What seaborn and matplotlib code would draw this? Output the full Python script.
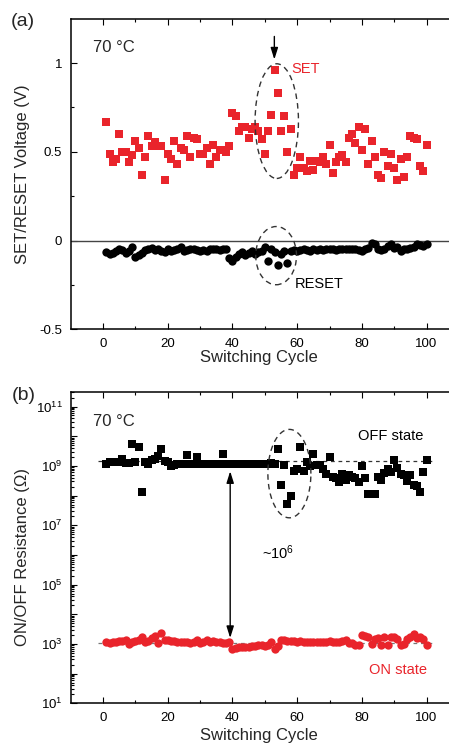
import numpy as np
import pandas as pd
import matplotlib
matplotlib.use("Agg")
import matplotlib.pyplot as plt
import seaborn as sns
from matplotlib.patches import Ellipse
from matplotlib.ticker import FixedLocator, FixedFormatter, LogLocator, NullFormatter

# ---------------- data ----------------
cycles = list(range(1, 101))

set_voltage = [
    0.67, 0.49, 0.44, 0.46, 0.60, 0.50, 0.50, 0.44, 0.48, 0.56,
    0.52, 0.37, 0.47, 0.59, 0.53, 0.555, 0.53, 0.53, 0.34, 0.49,
    0.46, 0.56, 0.43, 0.52, 0.51, 0.59, 0.47, 0.58, 0.57, 0.49,
    0.49, 0.52, 0.43, 0.54, 0.47, 0.51, 0.51, 0.50, 0.53, 0.72,
    0.70, 0.62, 0.64, 0.64, 0.58, 0.63, 0.64, 0.62, 0.57, 0.49,
    0.62, 0.71, 0.96, 0.83, 0.62, 0.70, 0.50, 0.63, 0.37, 0.41,
    0.47, 0.41, 0.39, 0.45, 0.40, 0.45, 0.44, 0.47, 0.43, 0.54,
    0.38, 0.44, 0.47, 0.48, 0.44, 0.58, 0.60, 0.55, 0.64, 0.51,
    0.63, 0.43, 0.56, 0.47, 0.37, 0.35, 0.50, 0.42, 0.49, 0.41,
    0.34, 0.46, 0.36, 0.47, 0.59, 0.58, 0.57, 0.42, 0.39, 0.54,
]

reset_voltage = [
    -0.063, -0.075, -0.070, -0.060, -0.045, -0.055, -0.070, -0.060, -0.035, -0.090,
    -0.080, -0.070, -0.055, -0.045, -0.040, -0.055, -0.050, -0.060, -0.065, -0.050,
    -0.060, -0.055, -0.050, -0.035, -0.060, -0.055, -0.050, -0.050, -0.055, -0.060,
    -0.055, -0.060, -0.050, -0.045, -0.050, -0.055, -0.045, -0.050, -0.100, -0.115,
    -0.090, -0.075, -0.065, -0.080, -0.070, -0.060, -0.075, -0.065, -0.060, -0.035,
    -0.114, -0.050, -0.065, -0.140, -0.075, -0.060, -0.127, -0.060, -0.055, -0.060,
    -0.055, -0.050, -0.055, -0.060, -0.050, -0.055, -0.050, -0.055, -0.050, -0.045,
    -0.050, -0.055, -0.050, -0.045, -0.050, -0.045, -0.050, -0.045, -0.055, -0.060,
    -0.050, -0.040, -0.015, -0.020, -0.050, -0.055, -0.050, -0.030, -0.020, -0.040,
    -0.035, -0.060, -0.050, -0.045, -0.040, -0.035, -0.020, -0.025, -0.030, -0.020,
]

# resistance values read as exponents of ten
off_log10 = [
    9.06, 9.13, 9.13, 9.13, 9.13, 9.24, 9.10, 9.10, 9.75, 9.13,
    9.65, 8.13, 9.13, 9.08, 9.20, 9.24, 9.35, 9.56, 9.15, 9.13,
    9.00, 9.04, 9.06, 9.06, 9.06, 9.38, 9.06, 9.06, 9.30, 9.06,
    9.06, 9.05, 9.06, 9.06, 9.07, 9.06, 9.39, 9.06, 9.06, 9.06,
    9.06, 9.07, 9.06, 9.06, 9.06, 9.07, 9.06, 9.06, 9.07, 9.08,
    9.08, 9.10, 9.08, 9.56, 8.35, 9.02, 7.73, 8.00, 8.84, 8.90,
    9.62, 8.84, 9.14, 9.00, 9.40, 9.04, 9.02, 8.88, 8.71, 9.30,
    8.64, 8.60, 8.47, 8.74, 8.54, 8.69, 8.64, 8.58, 8.47, 8.98,
    8.60, 8.05, 8.05, 8.05, 8.64, 8.54, 8.77, 8.88, 8.80, 9.21,
    8.94, 8.71, 8.69, 8.49, 8.69, 8.34, 8.33, 8.11, 8.80, 9.19,
]

on_log10 = [
    3.05, 3.04, 3.07, 3.06, 3.09, 3.11, 3.13, 3.00, 3.08, 3.10,
    3.12, 3.22, 3.08, 3.10, 3.20, 3.26, 3.03, 3.36, 3.14, 3.12,
    3.10, 3.09, 3.07, 3.08, 3.06, 3.05, 3.04, 3.06, 3.13, 3.04,
    3.05, 3.14, 3.08, 3.10, 3.07, 3.05, 3.04, 3.02, 3.06, 2.82,
    2.88, 2.90, 2.89, 2.91, 2.90, 2.92, 2.93, 2.95, 2.97, 2.94,
    2.96, 3.08, 2.82, 2.93, 3.14, 3.12, 3.11, 3.10, 3.09, 3.08,
    3.09, 3.07, 3.06, 3.05, 3.07, 3.06, 3.08, 3.06, 3.07, 3.10,
    3.06, 3.05, 3.08, 3.11, 3.13, 3.03, 3.02, 2.98, 2.97, 3.31,
    3.27, 3.23, 3.00, 3.16, 3.20, 2.98, 3.22, 2.98, 3.22, 3.23,
    3.16, 2.98, 2.99, 3.18, 3.22, 3.34, 3.20, 3.22, 3.15, 2.98,
]

x_ticks = [0, 20, 40, 60, 80, 100]
x_ticklabels = ["0", "20", "40", "60", "80", "100"]
v_ticks = [-0.5, 0, 0.5, 1]
v_ticklabels = ["-0.5", "0", "0.5", "1"]
r_ticks = [1e1, 1e2, 1e3, 1e4, 1e5, 1e6, 1e7, 1e8, 1e9, 1e10, 1e11]
r_ticklabels = [r"$10^{1}$", "", r"$10^{3}$", "", r"$10^{5}$", "", r"$10^{7}$", "",
                r"$10^{9}$", "", r"$10^{11}$"]

# ---------------- style ----------------
sns.set_style("ticks")
plt.rcParams["font.family"] = ["Liberation Sans", "DejaVu Sans"]
plt.rcParams["mathtext.fontset"] = "custom"
plt.rcParams["mathtext.rm"] = "Liberation Sans"
plt.rcParams["mathtext.it"] = "Liberation Sans:italic"
plt.rcParams["mathtext.bf"] = "Liberation Sans:bold"

RED = "#E9242B"

df = pd.DataFrame({
    "cycle": cycles,
    "set": set_voltage,
    "reset": reset_voltage,
    "off": np.power(10.0, off_log10),
    "on": np.power(10.0, on_log10),
})

W, H = 449, 749
fig = plt.figure(figsize=(W / 100, H / 100), dpi=100)
left_px, right_px = 70.7, 458.9
ax1 = fig.add_axes([left_px / W, 1 - 329.3 / H, (right_px - left_px) / W, (329.3 - 18.7) / H])
ax2 = fig.add_axes([left_px / W, 1 - 703.3 / H, (right_px - left_px) / W, (703.3 - 391.7) / H])

# ---------------- panel (a) ----------------
ax1.axhline(0, color="#444444", lw=1.0, zorder=1)
sns.scatterplot(data=df, x="cycle", y="set", ax=ax1, marker="s", s=28,
                color=RED, linewidth=0, zorder=3, legend=False)
sns.scatterplot(data=df, x="cycle", y="reset", ax=ax1, marker="o", s=36,
                color="black", linewidth=0, zorder=3, legend=False)

ax1.set_xlim(-10, 110)
ax1.set_ylim(-0.5, 1.25)
ax1.xaxis.set_major_locator(FixedLocator(x_ticks))
ax1.xaxis.set_major_formatter(FixedFormatter(x_ticklabels))
ax1.xaxis.set_minor_locator(FixedLocator([10, 30, 50, 70, 90]))
ax1.yaxis.set_major_locator(FixedLocator(v_ticks))
ax1.yaxis.set_major_formatter(FixedFormatter(v_ticklabels))
ax1.yaxis.set_minor_locator(FixedLocator([-0.25, 0.25, 0.75]))

dash = (0, (4, 3))
ax1.add_patch(Ellipse((53.7, 0.673), 13.4, 0.646, fill=False, ec="#333333",
                      lw=1.0, ls=dash, zorder=4))
ax1.add_patch(Ellipse((53.5, -0.085), 12.6, 0.328, fill=False, ec="#333333",
                      lw=1.0, ls=dash, zorder=4))
ax1.annotate("", xy=(52.95, 1.02), xytext=(52.95, 1.15),
             arrowprops=dict(arrowstyle="-|>,head_length=0.7,head_width=0.22",
                             color="black", lw=1.0, shrinkA=0, shrinkB=0))
ax1.text(-3.1, 1.09, "70 °C", fontsize=12, va="center", ha="left")
ax1.text(58.3, 0.966, "SET", fontsize=10.5, color=RED, va="center", ha="left")
ax1.text(59.4, -0.243, "RESET", fontsize=10.5, color="black", va="center", ha="left")

ax1.set_xlabel("Switching Cycle", fontsize=12)
ax1.set_ylabel("SET/RESET Voltage (V)", fontsize=12)
ax1.xaxis.set_label_coords(0.485, -0.066)
ax1.yaxis.set_label_coords(-0.106, 0.5)

# ---------------- panel (b) ----------------
ax2.set_yscale("log")
ax2.plot([-1.5, 102], [10 ** 9.16, 10 ** 9.16], color="#333333", lw=0.9, ls=(0, (3, 3)), zorder=2)
ax2.plot([-1.5, 102], [10 ** 3.04, 10 ** 3.04], color="#777777", lw=0.9, ls=(0, (3, 3)), zorder=2)
sns.scatterplot(data=df, x="cycle", y="off", ax=ax2, marker="s", s=28,
                color="black", linewidth=0, zorder=3, legend=False)
sns.scatterplot(data=df, x="cycle", y="on", ax=ax2, marker="o", s=36,
                color=RED, linewidth=0, zorder=3, legend=False)

ax2.set_xlim(-10, 110)
ax2.set_ylim(10, 10 ** 11.5)
ax2.xaxis.set_major_locator(FixedLocator(x_ticks))
ax2.xaxis.set_major_formatter(FixedFormatter(x_ticklabels))
ax2.xaxis.set_minor_locator(FixedLocator([10, 30, 50, 70, 90]))
ax2.yaxis.set_major_locator(FixedLocator(r_ticks))
ax2.yaxis.set_major_formatter(FixedFormatter(r_ticklabels))
ax2.yaxis.set_minor_locator(LogLocator(base=10, subs=np.arange(2, 10), numticks=30))
ax2.yaxis.set_minor_formatter(NullFormatter())

# dashed ellipse around the OFF-state scatter (drawn in log space)
t = np.linspace(0, 2 * np.pi, 200)
ax2.plot(57.6 + 6.65 * np.cos(t), np.power(10.0, 8.74 + 1.49 * np.sin(t)),
         color="#333333", lw=1.0, ls=dash, zorder=4)
ax2.annotate("", xy=(39.3, 10 ** 3.2), xytext=(39.3, 10 ** 8.82),
             arrowprops=dict(arrowstyle="<|-|>,head_length=0.7,head_width=0.22",
                             color="black", lw=1.0, shrinkA=0, shrinkB=0))
ax2.text(-3.1, 10 ** 10.5, "70 °C", fontsize=12, va="center", ha="left")
ax2.text(78.9, 10 ** 10.0, "OFF state", fontsize=10.5, color="black", va="center", ha="left")
ax2.text(82.3, 10 ** 2.12, "ON state", fontsize=10.5, color=RED, va="center", ha="left")
ax2.text(49.2, 10 ** 6.08, r"~10$^{6}$", fontsize=10.5, color="black", va="center", ha="left")

ax2.set_xlabel("Switching Cycle", fontsize=12)
ax2.set_ylabel("ON/OFF Resistance (Ω)", fontsize=12)
ax2.xaxis.set_label_coords(0.485, -0.078)
ax2.yaxis.set_label_coords(-0.106, 0.47)

for ax in (ax1, ax2):
    for sp in ax.spines.values():
        sp.set_visible(True)
        sp.set_linewidth(1.1)
        sp.set_color("black")
    ax.tick_params(which="both", direction="in", top=True, right=True,
                   width=0.8, colors="black", labelsize=9.5, pad=6)
    ax.tick_params(which="major", length=4)
    ax.tick_params(which="minor", length=2.2)
    ax.grid(False)

fig.text(23 / W, 1 - 21 / H, "(a)", fontsize=14, ha="center", va="center")
fig.text(24 / W, 1 - 395.5 / H, "(b)", fontsize=14, ha="center", va="center")

fig.savefig("out.png", dpi=100)
